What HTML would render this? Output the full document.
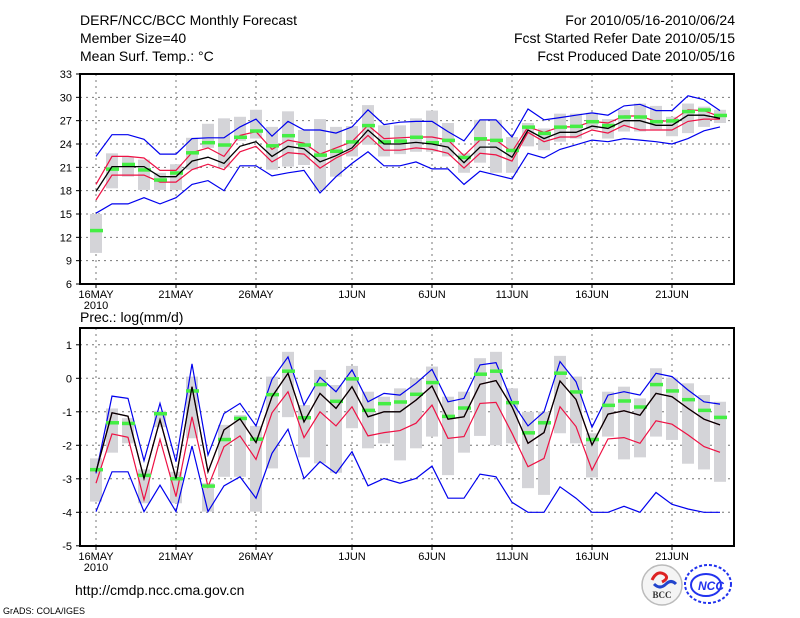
<!DOCTYPE html>
<html><head><meta charset="utf-8">
<style>
body{margin:0;background:#fff;}
svg{display:block;font-family:"Liberation Sans","DejaVu Sans",sans-serif;}
</style></head>
<body>
<svg id="c" width="800" height="618" viewBox="0 0 800 618">
<text x="80" y="25" font-size="14">DERF/NCC/BCC Monthly Forecast</text>
<text x="80" y="43" font-size="14">Member Size=40</text>
<text x="80" y="61" font-size="14">Mean Surf. Temp.: °C</text>
<text x="735" y="25" font-size="14" text-anchor="end">For 2010/05/16-2010/06/24</text>
<text x="735" y="43" font-size="14" text-anchor="end">Fcst Started Refer Date 2010/05/15</text>
<text x="735" y="61" font-size="14" text-anchor="end">Fcst Produced Date 2010/05/16</text>
<text x="80" y="322" font-size="14">Prec.: log(mm/d)</text>
<text x="75" y="595" font-size="14">http://cmdp.ncc.cma.gov.cn</text>
<text x="3" y="614" font-size="9">GrADS: COLA/IGES</text>
<g>
<circle cx="662" cy="585" r="20" fill="#f4f4f4" stroke="#bbb" stroke-width="1.5"/>
<path d="M652 580 q5 -10 12 -6 q6 4 -2 8" stroke="#d22" stroke-width="3" fill="none"/>
<path d="M654 584 q6 6 12 0 q5 -5 10 0" stroke="#2244cc" stroke-width="3" fill="none"/>
<text x="662" y="598" font-size="9" font-weight="bold" text-anchor="middle" fill="#333" font-family="Liberation Serif, serif">BCC</text>
</g>
<g>
<ellipse cx="708" cy="584" rx="23" ry="19" fill="none" stroke="#2233ee" stroke-width="2" stroke-dasharray="3 2"/>
<ellipse cx="706" cy="585" rx="15" ry="11" fill="none" stroke="#2233ee" stroke-width="2"/>
<text x="711" y="590" font-size="12" font-weight="bold" font-style="italic" text-anchor="middle" fill="#2233ee">NCC</text>
</g>
</svg>
<script>
// ---------- data ----------
const dayLabels = ["16MAY","21MAY","26MAY","1JUN","6JUN","11JUN","16JUN","21JUN"];
const dayLabelIdx = [0,5,10,16,21,26,31,36];
const tTicks = [6,9,12,15,18,21,24,27,30,33];
const pTicks = [-5,-4,-3,-2,-1,0,1];

const tMean = [17.9,21.1,21.1,21.1,19.8,19.8,21.8,22.3,21.5,23.7,24.3,22.4,23.7,23.4,21.7,22.5,23.5,25.8,24.0,24.0,24.2,24.0,23.6,21.6,23.6,23.6,22.3,25.8,24.7,25.5,25.5,26.3,26.0,27.0,27.0,26.4,26.4,27.7,27.7,27.3];
const tRedHi = [18.8,22.4,22.4,22.2,20.6,20.6,22.9,23.5,22.4,25.1,25.6,23.3,24.5,24.1,22.7,23.5,24.3,26.4,24.7,24.8,24.9,24.9,24.5,22.5,24.5,24.5,23.0,26.2,25.5,26.2,26.2,26.9,26.7,27.6,27.6,26.9,27.0,28.4,28.3,27.5];
const tRedLo = [16.8,20.0,20.0,20.0,19.1,19.1,20.7,21.4,20.7,23.0,23.7,21.7,22.9,22.7,20.9,22.2,23.2,25.1,23.2,23.2,23.5,23.3,22.8,20.9,22.8,22.6,21.8,25.5,24.3,24.9,24.9,25.8,25.4,26.4,25.8,25.8,25.8,26.9,27.2,27.2];
const tBlueHi = [22.4,25.2,25.2,24.6,22.7,22.7,24.7,24.8,24.8,26.2,27.2,25.0,26.9,25.8,25.8,25.4,26.2,28.4,26.5,26.8,26.9,26.9,25.6,24.4,27.1,27.1,24.9,28.5,27.1,27.4,27.7,28.0,27.7,28.9,29.1,28.3,28.3,30.2,29.7,28.3];
const tBlueLo = [15.1,16.3,16.3,17.1,16.3,17.1,18.8,19.3,18.0,21.2,21.2,19.9,20.3,20.6,17.7,19.8,21.5,23.0,21.2,21.2,21.7,20.8,20.8,18.8,20.5,20.0,19.5,22.8,22.2,23.3,23.9,24.5,24.3,24.7,24.5,24.3,24.0,24.7,25.7,26.2];
const tGreen = [12.9,20.8,21.4,20.7,19.4,20.3,22.9,24.2,23.9,24.9,25.7,23.8,25.1,23.9,22.6,23.1,24.3,26.4,24.3,24.4,24.9,24.2,24.5,22.3,24.7,24.5,23.2,26.2,25.4,26.2,26.3,26.9,26.4,27.5,27.5,26.9,27.0,28.2,28.4,27.7];
const tBoxHi = [15.0,22.8,22.4,22.0,20.3,21.4,24.8,26.6,27.3,27.5,28.4,26.2,28.2,25.8,27.2,26.2,26.3,29.0,26.4,26.4,27.3,28.3,26.7,22.8,27.1,27.1,24.9,26.7,26.0,27.9,27.9,28.0,27.2,28.4,29.2,28.9,27.5,29.2,28.8,28.4];
const tBoxLo = [10.0,18.3,19.8,18.1,18.1,18.1,20.7,23.5,21.0,24.4,24.7,20.7,21.1,21.3,18.1,19.8,22.4,23.9,22.4,22.7,23.0,23.0,22.4,20.3,21.6,20.3,20.3,23.7,23.2,24.3,24.7,25.9,24.7,25.6,25.6,25.9,25.0,25.4,26.2,26.7];

const pMean = [-2.79,-1.03,-1.13,-2.99,-1.24,-2.99,-0.25,-2.79,-1.54,-1.21,-1.92,-0.55,0.15,-1.30,-0.45,-0.90,-0.25,-1.15,-1.00,-1.00,-0.65,-0.23,-1.22,-1.15,-0.18,-0.07,-0.85,-1.94,-1.62,-0.08,-0.63,-1.99,-1.07,-0.97,-1.10,-0.45,-0.55,-0.90,-1.22,-1.39];
const pRedLo = [-3.13,-1.66,-1.76,-3.63,-1.82,-3.53,-1.15,-3.24,-2.04,-1.72,-2.42,-1.03,-0.40,-1.77,-1.00,-1.42,-0.85,-1.72,-1.62,-1.56,-1.34,-0.80,-1.79,-1.74,-0.75,-0.72,-1.64,-2.64,-2.39,-0.85,-1.44,-2.74,-1.81,-1.77,-1.94,-1.27,-1.37,-1.69,-2.04,-2.21];
const pBlueHi = [-2.84,-0.53,-0.60,-2.46,-0.75,-2.49,0.43,-2.29,-1.05,-0.75,-1.42,-0.03,0.64,-0.80,0.03,-0.40,0.25,-0.70,-0.45,-0.50,-0.15,0.27,-0.70,-0.60,0.40,0.47,-0.70,-1.42,-1.00,0.50,-0.10,-1.46,-0.50,-0.40,-0.50,0.15,0.05,-0.35,-0.70,-0.77];
const pBlueLo = [-3.98,-2.79,-2.79,-3.98,-3.19,-3.98,-2.02,-3.98,-3.21,-2.94,-3.58,-2.24,-1.52,-2.99,-2.49,-2.84,-2.19,-3.21,-2.99,-3.13,-2.99,-2.62,-3.58,-3.58,-2.86,-2.94,-3.70,-4.0,-4.0,-3.24,-3.58,-4.0,-4.0,-3.82,-4.0,-3.41,-3.76,-3.9,-4.0,-4.0];
const pGreen = [-2.72,-1.32,-1.34,-2.89,-1.05,-2.99,-0.37,-3.21,-1.82,-1.19,-1.81,-0.48,0.22,-1.17,-0.18,-0.68,-0.01,-0.95,-0.75,-0.70,-0.47,-0.12,-1.13,-0.88,0.13,0.22,-0.72,-1.62,-1.32,0.16,-0.40,-1.82,-0.80,-0.67,-0.85,-0.18,-0.37,-0.63,-0.95,-1.16];
const pBoxHi = [-2.39,-0.90,-1.19,-2.72,-0.97,-2.79,0.05,-3.13,-1.39,-1.10,-1.42,0.05,0.79,-0.80,0.25,-0.20,0.37,-0.40,-0.55,-0.30,0.00,0.35,-0.55,-0.40,0.60,0.79,-0.30,-1.00,-1.00,0.67,0.05,-1.64,-0.40,-0.25,-0.60,0.30,0.02,-0.15,-0.50,-0.70];
const pBoxLo = [-3.68,-2.22,-1.94,-3.73,-1.46,-3.73,-1.79,-3.98,-2.94,-2.94,-3.98,-2.69,-1.16,-2.36,-2.54,-2.82,-1.49,-2.09,-1.94,-2.45,-2.09,-1.74,-2.89,-2.22,-1.72,-2.00,-1.94,-3.28,-3.48,-1.64,-1.94,-2.96,-1.74,-2.42,-2.36,-1.74,-1.84,-2.55,-2.72,-3.09];

// ---------- drawing ----------
const NS = "http://www.w3.org/2000/svg";
const svg = document.getElementById('c');
const L = 80, R = 734;
const xs = i => 96 + 16 * i;
const yT = v => 284 - (v - 6) * (210 / 27);
const yP = v => 378.3 - v * 33.5;

function mk(tag, attrs, parent) {
  const e = document.createElementNS(NS, tag);
  for (const k in attrs) e.setAttribute(k, attrs[k]);
  (parent || svg).appendChild(e);
  return e;
}

function panel(name, top, bottom, ticks, ys, S) {
  const g = mk('g', {});
  
  
  // grid
  ticks.forEach(t => {
    const y = ys(t);
    if (y > top + 1 && y < bottom - 1) {
      const gl = mk('line', {x1: L, x2: R, y1: y, y2: y, stroke: '#777', 'stroke-width': 1, 'stroke-dasharray': '2 4'}, g);
      
      
    }
    const tk = mk('line', {x1: L - 4, x2: L, y1: y, y2: y, stroke: '#000'}, g);
    
    
    const tl = mk('text', {x: L - 8, y: y + 4, 'font-size': 11, 'text-anchor': 'end'}, g);
    tl.textContent = t;
    
    
  });
  dayLabelIdx.forEach((d, k) => {
    const x = xs(d);
    const vl = mk('line', {x1: x, x2: x, y1: top, y2: bottom, stroke: '#777', 'stroke-width': 1, 'stroke-dasharray': '2 4'}, g);
    
    
    const tk = mk('line', {x1: x, x2: x, y1: bottom, y2: bottom + 4, stroke: '#000'}, g);
    
    
    const tl = mk('text', {x: x, y: bottom + 14, 'font-size': 11, 'text-anchor': 'middle'}, g);
    tl.textContent = dayLabels[k];
    
    
  });
  const yr = mk('text', {x: xs(0), y: bottom + 25, 'font-size': 11, 'text-anchor': 'middle'}, g);
  yr.textContent = '2010';
  
  
  // boxes
  S.boxHi.forEach((hi, i) => {
    const a = ys(hi), b = ys(S.boxLo[i]);
    const r = mk('rect', {x: xs(i) - 6, y: Math.min(a, b), width: 12, height: Math.abs(b - a), fill: '#d4d4d8'}, g);
    
    
  });
  const line = (arr, col, w, nm) => {
    const p = mk('polyline', {points: arr.map((v, i) => xs(i) + ',' + ys(v).toFixed(1)).join(' '), fill: 'none', stroke: col, 'stroke-width': w}, g);
    
    
  };
  line(S.blueHi, '#0000ee', 1.2, 'max-line');
  line(S.blueLo, '#0000ee', 1.2, 'min-line');
  S.reds.forEach(r => line(r, '#ee1144', 1.2, 'spread-line'));
  S.green.forEach((v, i) => {
    const r = mk('rect', {x: xs(i) - 6, y: ys(v) - 1.5, width: 13, height: 3.5, fill: '#44ee44'}, g);
    
    
  });
  line(S.mean, '#000', 1.3, 'ensemble-mean-line');
  const fr = mk('rect', {x: L, y: top, width: R - L, height: bottom - top, fill: 'none', stroke: '#000', 'stroke-width': 2}, g);
  
  
}

panel('temperature-panel', 74, 284, tTicks, yT,
  {boxHi: tBoxHi, boxLo: tBoxLo, blueHi: tBlueHi, blueLo: tBlueLo, reds: [tRedHi, tRedLo], green: tGreen, mean: tMean});
panel('precipitation-panel', 328, 546, pTicks, yP,
  {boxHi: pBoxHi, boxLo: pBoxLo, blueHi: pBlueHi, blueLo: pBlueLo, reds: [pMean, pRedLo], green: pGreen, mean: pMean});
</script>
</body></html>
